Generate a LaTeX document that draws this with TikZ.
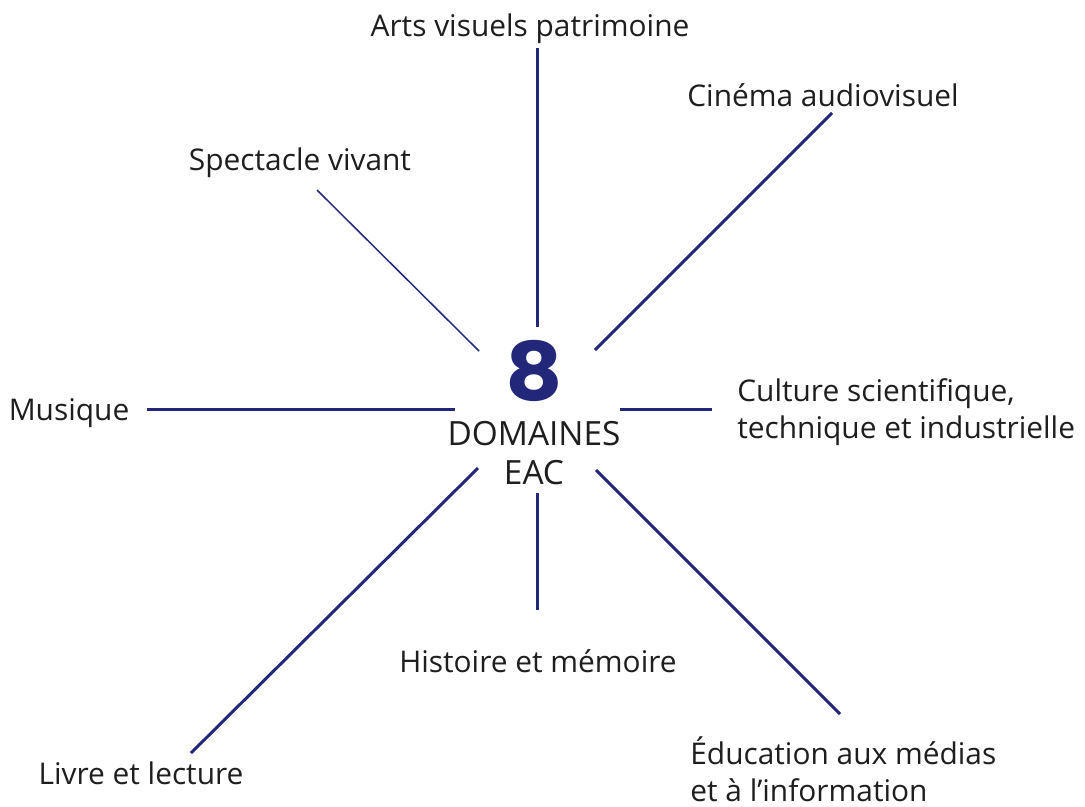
\documentclass[tikz,border=0pt]{standalone}
\usepackage{fontspec}
\setmainfont{Open Sans}
\newfontfamily\chiffre{Poppins}
\usetikzlibrary{positioning}
\definecolor{bleuEAC}{RGB}{35,39,122}
\definecolor{texte}{RGB}{30,30,30}

\begin{document}
\begin{tikzpicture}[x=0.02cm,y=-0.02cm,
    rayon/.style={draw=bleuEAC,line width=1.7pt},
    domaine/.style={text=texte,font=\fontsize{17}{21}\selectfont,inner sep=0pt}]
        \useasboundingbox(0,0)rectangle(1085,806);
        % centre
        \node[text=bleuEAC,inner sep=0pt,xscale=1.1,font=\chiffre\bfseries\fontsize{46}{46}\selectfont](huit)at(534,371){8};
        \node[domaine,align=center,font=\fontsize{19}{22}\selectfont](eac)at(534,453){DOMAINES\\EAC};
        % domaines
        \node[domaine](arts)at(530,29){Arts visuels patrimoine};
        \node[domaine](cinema)at(823,95){Cinéma audiovisuel};
        \node[domaine](spectacle)at(300,163){Spectacle vivant};
        \node[domaine](musique)at(69,413){Musique};
        \node[domaine,align=left,anchor=west](culture)at(737,412){Culture scientifique,\\technique et industrielle};
        \node[domaine](histoire)at(538,661){Histoire et mémoire};
        \node[domaine](livre)at(141,773){Livre et lecture};
        \node[domaine,align=left,anchor=west](education)at(690,769){Éducation aux médias\\et à l’information};
        % extrémités des rayons
        \coordinate(a1)at(537,48);   \coordinate(a2)at(537,327);
        \coordinate(c1)at(832,113);  \coordinate(c2)at(595,350);
        \coordinate(s1)at(317,190);  \coordinate(s2)at(479,351);
        \coordinate(m1)at(147,409);  \coordinate(m2)at(455,409);
        \coordinate(t1)at(712,409);  \coordinate(t2)at(620,409);
        \coordinate(l1)at(191,753);  \coordinate(l2)at(478,468);
        \coordinate(h1)at(537,610);  \coordinate(h2)at(537,493);
        \coordinate(e1)at(840,714);  \coordinate(e2)at(596,470);
        % rayons
        \draw[rayon](a1)--(a2);
        \draw[rayon](c1)--(c2);
        \draw[rayon,line width=0.85pt](s1)--(s2);
        \draw[rayon](m1)--(m2);
        \draw[rayon](t1)--(t2);
        \draw[rayon](l1)--(l2);
        \draw[rayon](h1)--(h2);
        \draw[rayon](e1)--(e2);
\end{tikzpicture}
\end{document}
